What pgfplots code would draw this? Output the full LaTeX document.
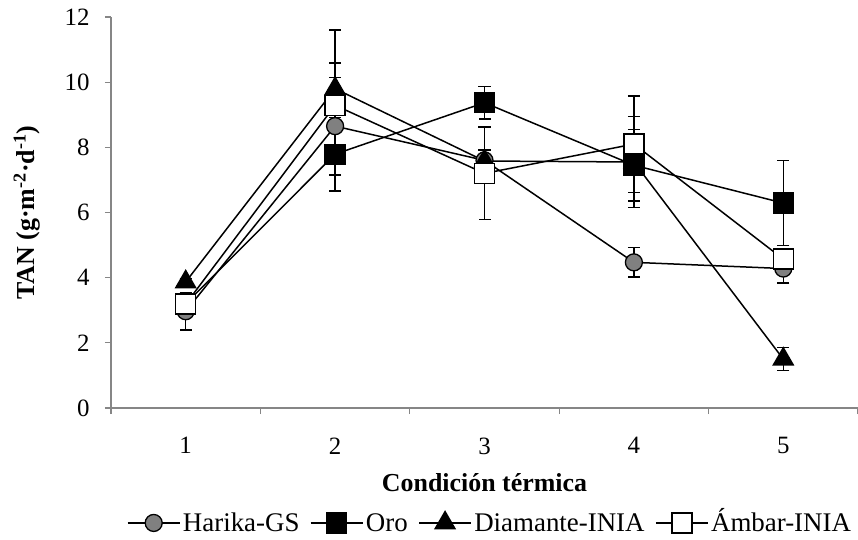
\documentclass[border=0pt]{standalone}
\usepackage{fontspec}
\setmainfont{Liberation Serif}
\usepackage{pgfplots}
\pgfplotsset{compat=1.18}
\definecolor{axisgray}{HTML}{868686}
\definecolor{markgray}{HTML}{808080}
\begin{document}
\begin{tikzpicture}
\begin{axis}[
  scale only axis, width=747bp, height=391bp,
  xmin=0.5, xmax=5.5, ymin=0, ymax=12,
  axis x line=bottom, axis y line=left,
  axis line style={-, draw=axisgray, line width=1.2bp},
  tick align=outside,
  xtick={1,2,3,4,5},
  minor xtick={0.5,1.5,2.5,3.5,4.5,5.5},
  major x tick style={draw=none},
  minor x tick style={draw=axisgray, line width=1.2bp},
  minor tick length=6bp,
  ytick={0,2,4,6,8,10,12},
  major tick length=6bp,
  y tick style={draw=axisgray, line width=1.2bp},
  tick label style={font=\fontsize{25}{30}\selectfont},
  /pgf/number format/assume math mode=true,
  xticklabel style={yshift=-20bp},
  yticklabel style={xshift=-12bp},
  xlabel={Condición térmica},
  ylabel={TAN (g·m\textsuperscript{-2}·d\textsuperscript{-1})},
  label style={font=\bfseries\fontsize{26}{31}\selectfont},
  xlabel style={at={(axis description cs:0.5,-0.192)}, anchor=center},
  ylabel style={at={(axis description cs:-0.1125,0.5)}, anchor=center},
  legend style={at={(0.507,-0.294)}, anchor=center, draw=none, fill=none,
    legend columns=4, font=\fontsize{27}{32}\selectfont,
    nodes={inner sep=1.5bp},
    /tikz/every odd column/.append style={column sep=1bp},
    /tikz/every even column/.append style={column sep=9bp}},
  legend image code/.code={\draw[mark repeat=2,mark phase=2] plot coordinates {(0bp,0bp) (26bp,0bp) (52bp,0bp)};},
  error bars/error bar style={line width=1.5bp, black},
  error bars/error mark options={rotate=90, mark size=6bp, line width=1.5bp, black},
]
\addplot[black, line width=1.5bp, mark=*, mark size=8.5bp, mark options={fill=markgray, draw=black, line width=1.3bp},
  error bars/.cd, y dir=both, y explicit] coordinates {
  (1,2.97) +- (0,0.58)
  (2,8.65) +- (0,1.50)
  (3,7.60) +- (0,0.30)
  (4,4.47) +- (0,0.45)
  (5,4.28) +- (0,0.45)
};
\addlegendentry{Harika-GS}
\addplot[black, line width=1.5bp, mark=square*, mark size=10bp, mark options={fill=black, draw=black, line width=1.3bp},
  error bars/.cd, y dir=both, y explicit] coordinates {
  (1,3.20) +- (0,0.15)
  (2,7.79) +- (0,1.13)
  (3,9.37) +- (0,0.50)
  (4,7.45) +- (0,1.10)
  (5,6.29) +- (0,1.30)
};
\addlegendentry{Oro}
\addplot[black, line width=1.5bp, mark=triangle*, mark size=11.5bp, mark options={fill=black, draw=black, line width=1.3bp},
  error bars/.cd, y dir=both, y explicit] coordinates {
  (1,3.87) +- (0,0.10)
  (2,9.80) +- (0,1.80)
  (3,7.58) +- (0,0.35)
  (4,7.55) +- (0,1.40)
  (5,1.50) +- (0,0.35)
};
\addlegendentry{Diamante-INIA}
\addplot[black, line width=1.5bp, mark=square*, mark size=10bp, mark options={fill=white, draw=black, line width=1.3bp},
  error bars/.cd, y dir=both, y explicit] coordinates {
  (1,3.19) +- (0,0.15)
  (2,9.29) +- (0,1.30)
  (3,7.20) +- (0,1.42)
  (4,8.10) +- (0,1.48)
  (5,4.57) +- (0,0.30)
};
\addlegendentry{\smash{Á}mbar-INIA}
\end{axis}
\pgfresetboundingbox
\path[use as bounding box] (-111bp,-132bp) rectangle (747bp,408bp);
\end{tikzpicture}
\end{document}
